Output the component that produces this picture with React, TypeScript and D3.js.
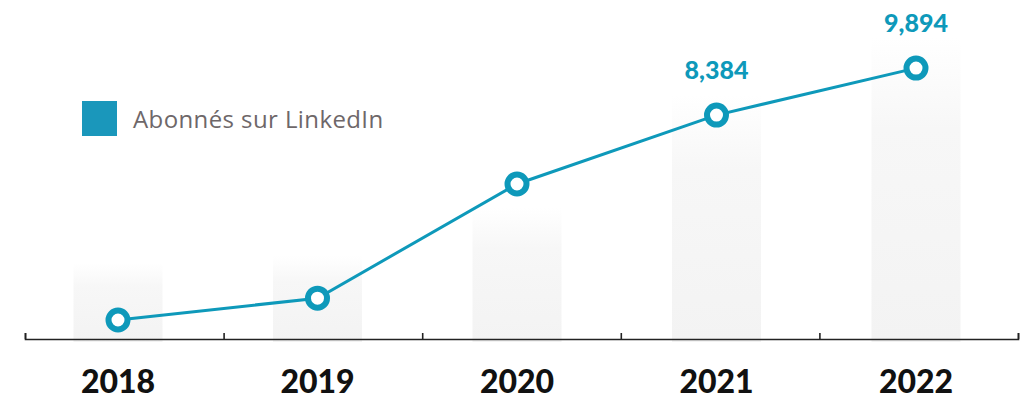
import { useEffect, useMemo, useRef } from "react";
import * as d3 from "d3";

const width = 1026;
const height = 400;
const axisY = 339;

const years = ["2018", "2019", "2020", "2021", "2022"];
const subscribers = [1800, 2500, 6170, 8384, 9894];
const shownLabels = [false, false, false, true, true];
const backdropValues = [3630, 3860, 5400, 9030, 10890];
const legendLabel = "Abonnés sur LinkedIn";

const lineColor = "#0e99ba";

const App = () => {
  const axisRef = useRef<SVGGElement>(null);

  const { xBand, xPos, yScale, linePath, edges } = useMemo(() => {
    // axis bands (ticks at edges) and centres of marks
    const xBand = d3.scaleBand<string>().domain(years).range([25, 1018]);
    const xPos = d3.scalePoint<string>().domain(years).range([118, 916]);
    const yScale = d3.scaleLinear().domain([0, 10000]).range([376, 64.8]);
    const line = d3
      .line<number>()
      .x((_, i) => xPos(years[i]) as number)
      .y((d) => yScale(d));
    const edges = years.map((y) => xBand(y) as number).concat(1018);
    return { xBand, xPos, yScale, linePath: line(subscribers), edges };
  }, []);

  useEffect(() => {
    if (!axisRef.current) return;
    const lin = d3.scaleLinear().domain(xBand.range()).range(xBand.range());
    const axis = d3
      .axisTop(lin)
      .tickValues(edges)
      .tickSizeInner(6)
      .tickSizeOuter(6)
      .tickFormat(() => "");
    const g = d3.select(axisRef.current).call(axis);
    g.selectAll("path, line").attr("stroke", "#222").attr("stroke-width", 1.6);
  }, [edges, xBand]);

  const cx = (i: number) => xPos(years[i]) as number;
  const barW = 89;

  return (
    <div style={{ position: "absolute", left: 0, top: 0 }}>
      <svg width={width} height={height} style={{ display: "block" }}>
        <defs>
          <linearGradient id="barFade" x1="0" y1="0" x2="0" y2="1">
            <stop offset="0%" stopColor="#ffffff" />
            <stop offset="30%" stopColor="#f7f7f7" />
            <stop offset="100%" stopColor="#f3f3f3" />
          </linearGradient>
        </defs>
        {backdropValues.map((v, i) => (
          <rect
            key={years[i]}
            x={cx(i) - barW / 2}
            y={yScale(v)}
            width={barW}
            height={axisY + 3 - yScale(v)}
            fill="url(#barFade)"
          />
        ))}
        <g ref={axisRef} transform={`translate(0, ${axisY})`} />
        <path d={linePath ?? undefined} fill="none" stroke={lineColor} strokeWidth={3} />
        {subscribers.map((v, i) => (
          <circle
            key={years[i]}
            cx={cx(i)}
            cy={yScale(v)}
            r={9.5}
            fill="#fff"
            stroke={lineColor}
            strokeWidth={6}
          />
        ))}
        {subscribers.map((v, i) =>
          shownLabels[i] ? (
            <text
              key={years[i]}
              x={cx(i)}
              y={yScale(v) - 36}
              textAnchor="middle"
              fontFamily="Lato, 'Open Sans', sans-serif"
              fontWeight={900}
              fontSize={25}
              fill={lineColor}
            >
              {d3.format(",")(v)}
            </text>
          ) : null
        )}
        {years.map((y, i) => (
          <text
            key={y}
            x={cx(i)}
            y={393}
            textAnchor="middle"
            fontFamily="Lato, 'Open Sans', sans-serif"
            fontWeight={900}
            fontSize={32}
            fill="#111"
          >
            {y}
          </text>
        ))}
        <rect x={82} y={101} width={35} height={35} fill="#1a97bb" />
        <text
          x={133}
          y={128}
          fontFamily="'Open Sans', sans-serif"
          fontSize={24}
          letterSpacing={0.4}
          fill="#6e6769"
        >
          {legendLabel}
        </text>
      </svg>
    </div>
  );
};

export default App;
